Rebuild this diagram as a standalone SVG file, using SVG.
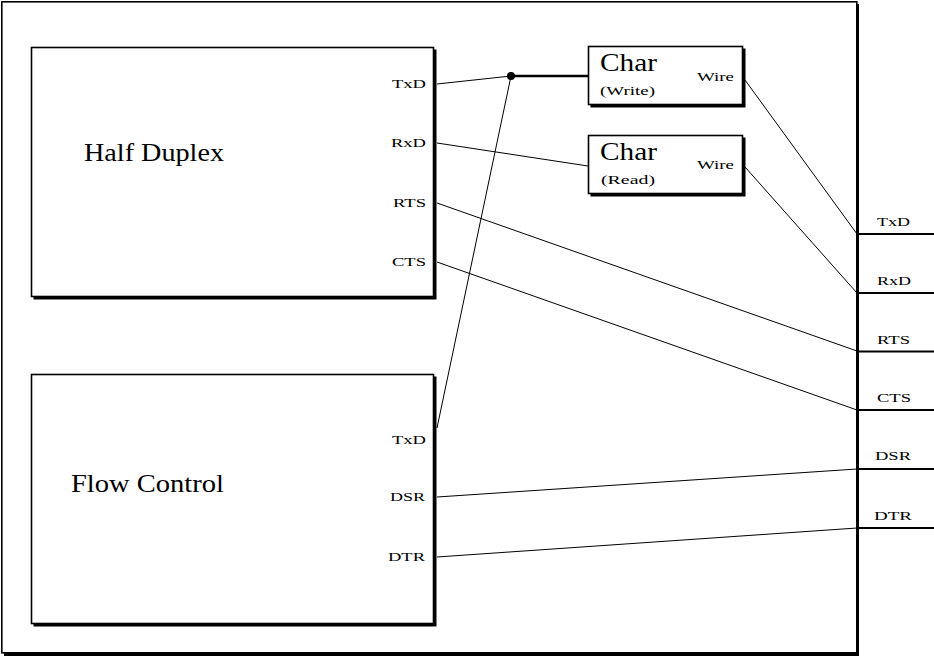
<svg xmlns="http://www.w3.org/2000/svg" width="934" height="656" viewBox="0 0 934 656">
<style>
.frame{fill:#fff;stroke:#000;stroke-width:1.6}
.shadow{fill:#000}
.big{font-family:"Liberation Serif",serif;font-size:26px;fill:#000}
.sm{font-family:"Liberation Serif",serif;font-size:12.5px;fill:#000}
.wire{fill:none;stroke:#000;stroke-width:1}
.stub{fill:none;stroke:#000;stroke-width:1.8}
</style>
<rect width="934" height="656" fill="#fff"/>
<g id="system">
<rect class="shadow" x="4" y="4" width="855" height="652"/>
<rect class="frame" x="1.8" y="1.8" width="855" height="651"/>
</g>
<g id="half-duplex">
<rect class="shadow" x="33.5" y="49.5" width="403" height="250"/>
<rect class="frame" x="31.5" y="47.5" width="402" height="249"/>
<text class="big" x="84" y="161" textLength="140" lengthAdjust="spacingAndGlyphs">Half Duplex</text>
<text class="sm" x="392" y="88" textLength="34" lengthAdjust="spacingAndGlyphs">TxD</text>
<text class="sm" x="391" y="147" textLength="35" lengthAdjust="spacingAndGlyphs">RxD</text>
<text class="sm" x="393" y="207" textLength="33" lengthAdjust="spacingAndGlyphs">RTS</text>
<text class="sm" x="392" y="266" textLength="34" lengthAdjust="spacingAndGlyphs">CTS</text>
</g>
<g id="flow-control">
<rect class="shadow" x="33.5" y="376.5" width="403" height="250"/>
<rect class="frame" x="31.5" y="374.5" width="402" height="249"/>
<text class="big" x="71" y="492" textLength="153" lengthAdjust="spacingAndGlyphs">Flow Control</text>
<text class="sm" x="392" y="444" textLength="34" lengthAdjust="spacingAndGlyphs">TxD</text>
<text class="sm" x="390" y="501" textLength="35" lengthAdjust="spacingAndGlyphs">DSR</text>
<text class="sm" x="388" y="561" textLength="37" lengthAdjust="spacingAndGlyphs">DTR</text>
</g>
<g id="char-write">
<rect class="shadow" x="590.5" y="48.5" width="155" height="59"/>
<rect class="frame" x="588.5" y="46.5" width="154" height="58"/>
<text class="big" x="600" y="71" textLength="57" lengthAdjust="spacingAndGlyphs">Char</text>
<text class="sm" x="600" y="95" textLength="55" lengthAdjust="spacingAndGlyphs">(Write)</text>
<text class="sm" x="697" y="81" textLength="37" lengthAdjust="spacingAndGlyphs">Wire</text>
</g>
<g id="char-read">
<rect class="shadow" x="590.5" y="137.5" width="155" height="59"/>
<rect class="frame" x="588.5" y="135.5" width="154" height="58"/>
<text class="big" x="600" y="160" textLength="57" lengthAdjust="spacingAndGlyphs">Char</text>
<text class="sm" x="601" y="184" textLength="54" lengthAdjust="spacingAndGlyphs">(Read)</text>
<text class="sm" x="697" y="169" textLength="37" lengthAdjust="spacingAndGlyphs">Wire</text>
</g>
<g id="ports">
<line class="stub" x1="857" y1="234" x2="934" y2="234"/>
<line class="stub" x1="857" y1="293" x2="934" y2="293"/>
<line class="stub" x1="857" y1="351.5" x2="934" y2="351.5"/>
<line class="stub" x1="857" y1="410" x2="934" y2="410"/>
<line class="stub" x1="857" y1="469" x2="934" y2="469"/>
<line class="stub" x1="857" y1="528" x2="934" y2="528"/>
<text class="sm" x="877" y="226" textLength="33" lengthAdjust="spacingAndGlyphs">TxD</text>
<text class="sm" x="877" y="285" textLength="34" lengthAdjust="spacingAndGlyphs">RxD</text>
<text class="sm" x="877" y="344" textLength="33" lengthAdjust="spacingAndGlyphs">RTS</text>
<text class="sm" x="877" y="402" textLength="34" lengthAdjust="spacingAndGlyphs">CTS</text>
<text class="sm" x="875" y="460" textLength="36" lengthAdjust="spacingAndGlyphs">DSR</text>
<text class="sm" x="874" y="520" textLength="38" lengthAdjust="spacingAndGlyphs">DTR</text>
</g>
<g id="connectors">
<line class="wire" x1="437" y1="84" x2="511" y2="76"/>
<line x1="511" y1="76" x2="588" y2="76" stroke="#000" stroke-width="2.5"/>
<circle cx="511" cy="76" r="4" fill="#000"/>
<line class="wire" x1="437" y1="428" x2="511" y2="76"/>
<line class="wire" x1="437" y1="143" x2="588" y2="166"/>
<line class="wire" x1="437" y1="203" x2="857" y2="351"/>
<line class="wire" x1="437" y1="262" x2="857" y2="410"/>
<line class="wire" x1="437" y1="497" x2="857" y2="469"/>
<line class="wire" x1="437" y1="557" x2="857" y2="528"/>
<line class="wire" x1="745" y1="80" x2="857" y2="234"/>
<line class="wire" x1="745" y1="167" x2="857" y2="293"/>
</g>
</svg>
